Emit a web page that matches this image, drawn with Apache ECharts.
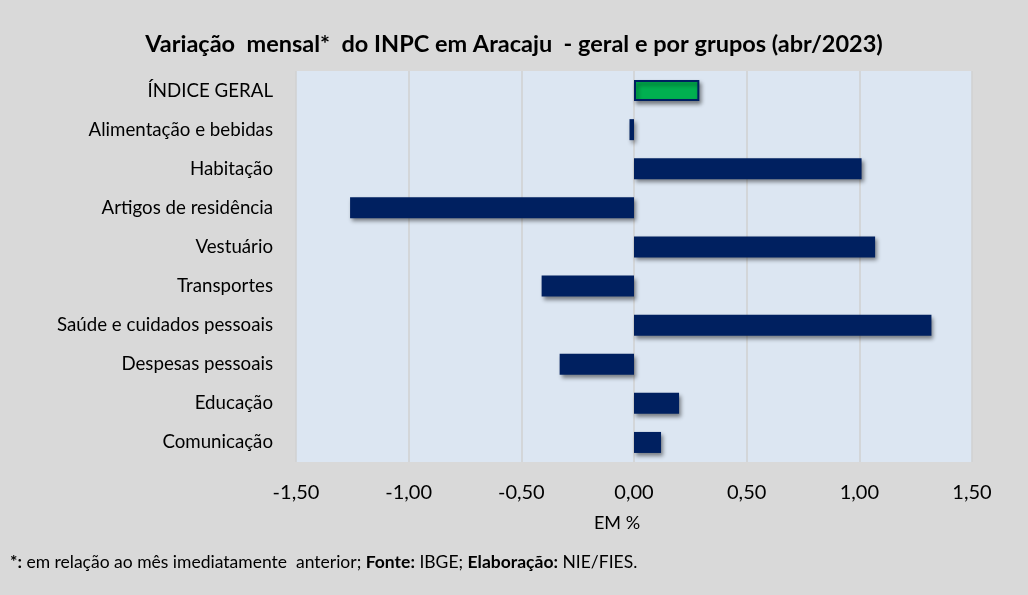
<!DOCTYPE html>
<html>
<head>
<meta charset="utf-8">
<script src="https://cdn.jsdelivr.net/npm/echarts@6/dist/echarts.min.js"></script>
<style>
html,body{margin:0;padding:0;background:#d9d9d9;}
#chart{width:1028px;height:595px;}
</style>
</head>
<body>
<div id="chart"></div>
<script>
var grupos = ['ÍNDICE GERAL','Alimentação e bebidas','Habitação','Artigos de residência','Vestuário','Transportes','Saúde e cuidados pessoais','Despesas pessoais','Educação','Comunicação'];
var variacao = [0.29,-0.02,1.01,-1.26,1.07,-0.41,1.32,-0.33,0.20,0.12];

var fonte = 'Lato, "Open Sans", sans-serif';
var myChart = echarts.init(document.getElementById('chart'));

var dados = variacao.map(function(v, i) {
    if (i === 0) {
        return {value: v, itemStyle: {color: '#00b050', borderColor: '#002060', borderWidth: 2}};
    }
    return v;
});

var option = {
    backgroundColor: '#d9d9d9',
    textStyle: {fontFamily: fonte},
    title: {
        text: 'Variação  mensal*  do INPC em Aracaju  - geral e por grupos (abr/2023)',
        left: 'center',
        top: 27,
        textStyle: {fontSize: 23.5, fontWeight: 'bold', color: '#000', fontFamily: fonte}
    },
    grid: {
        left: 296,
        right: 56,
        top: 71,
        bottom: 133,
        show: true,
        backgroundColor: '#dce6f2',
        borderWidth: 0
    },
    xAxis: {
        type: 'value',
        min: -1.5,
        max: 1.5,
        interval: 0.5,
        name: 'EM %',
        nameLocation: 'middle',
        nameGap: 52,
        nameTextStyle: {fontSize: 18, color: '#000', padding: [0, 34, 0, 0]},
        axisLine: {show: false},
        axisTick: {show: false},
        splitLine: {lineStyle: {color: '#d0d0d0', width: 1.5}},
        axisLabel: {
            fontSize: 20,
            color: '#000',
            margin: 21,
            formatter: function(v) { return v.toFixed(2).replace('.', ','); }
        }
    },
    yAxis: {
        type: 'category',
        inverse: true,
        data: grupos,
        axisLine: {show: false},
        axisTick: {show: false},
        axisLabel: {fontSize: 18.7, color: '#000', margin: 23}
    },
    series: [{
        type: 'bar',
        data: dados,
        barWidth: 21,
        itemStyle: {
            color: '#002060',
            shadowColor: 'rgba(0,0,0,0.45)',
            shadowBlur: 4,
            shadowOffsetX: 2,
            shadowOffsetY: 3
        }
    }],
    graphic: [{
        type: 'text',
        left: 10,
        top: 553,
        style: {
            text: '{b|*:} em relação ao mês imediatamente  anterior; {b|Fonte:} IBGE; {b|Elaboração:} NIE/FIES.',
            fontSize: 17.5,
            fontFamily: fonte,
            fill: '#000',
            rich: {
                b: {fontWeight: 'bold', fontSize: 17.5, fontFamily: fonte}
            }
        }
    }]
};
myChart.setOption(option);
</script>
</body>
</html>
